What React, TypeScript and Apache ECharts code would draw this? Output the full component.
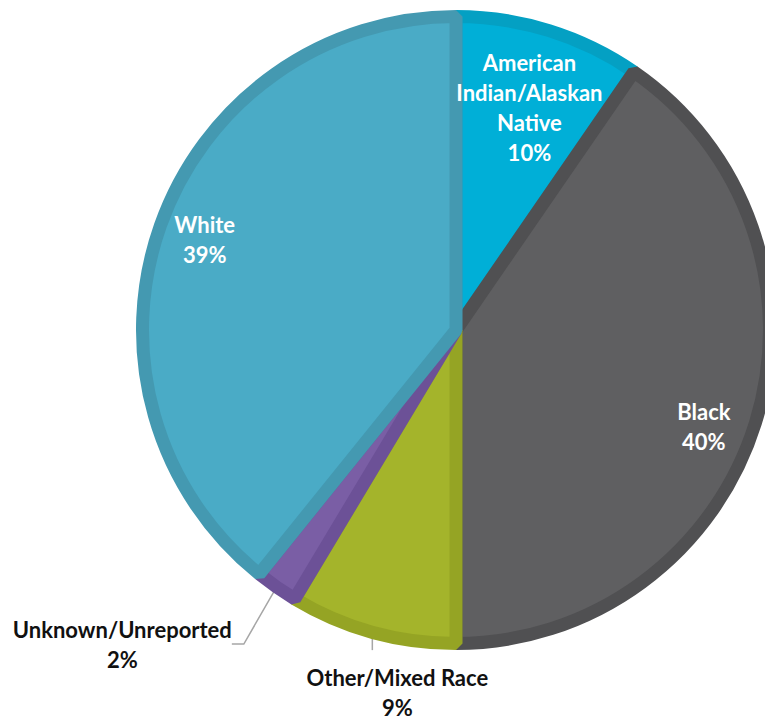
import React, { useEffect, useRef } from "react";
import * as echarts from "echarts";

const categories = [
  "American Indian/Alaskan Native",
  "Black",
  "Other/Mixed Race",
  "Unknown/Unreported",
  "White",
];
const labelText = [
  "American\nIndian/Alaskan\nNative",
  "Black",
  "Other/Mixed Race",
  "Unknown/Unreported",
  "White",
];
const values = [9.6, 40.4, 8.6, 2.2, 39.2];
const fillColors = ["#00afd7", "#5f5f61", "#a4b42b", "#7a5ea5", "#4aabc6"];
const borderColors = ["#04a0c3", "#505052", "#95a424", "#6c5197", "#4499b1"];
const insideLabel = [true, true, false, false, true];

// layout constants (pixels / degrees)
const CX = 456;
const CY = 330;
const R = 320;
const BORDER = 13;
const labelRadius = [234, 266, 0, 0, 267];
const labelAngleShift = [1, 4, 0, 0, 0.3];

export default function App() {
  const ref = useRef<HTMLDivElement>(null);
  useEffect(() => {
    if (!ref.current) return;
    const chart = echarts.init(ref.current, null, { renderer: "svg" });
    const font = {
      fontFamily: "Lato",
      fontWeight: "bold" as const,
      fontSize: 22,
      lineHeight: 30,
    };
    const data = categories.map((name, i) => ({
      name,
      value: values[i],
      itemStyle: {
        color: fillColors[i],
        borderColor: borderColors[i],
        borderWidth: BORDER,
        borderJoin: "bevel",
      },
      label: insideLabel[i]
        ? { position: "inside", color: "#ffffff", ...font }
        : { position: "outside", color: "#111111", ...font },
      labelLine: insideLabel[i]
        ? { show: false }
        : {
            show: true,
            length: i === 2 ? 18 : 72,
            length2: i === 2 ? 0 : 12,
            lineStyle: { color: "#a6a6a6", width: 1.5 },
          },
    }));
    chart.setOption({
      animation: false,
      backgroundColor: "#ffffff",
      series: [
        {
          type: "pie",
          center: [CX, CY],
          radius: [0, R - BORDER / 2],
          startAngle: 90,
          clockwise: true,
          percentPrecision: 0,
          avoidLabelOverlap: false,
          data,
          label: {
            formatter: (p: any) => `${labelText[p.dataIndex]}\n${p.percent}%`,
          },
          labelLayout: (p: any) => {
            const i = p.dataIndex;
            if (insideLabel[i]) {
              const lx = p.labelRect.x + p.labelRect.width / 2;
              const ly = p.labelRect.y + p.labelRect.height / 2;
              const vx = lx - CX;
              const vy = ly - CY;
              // angle measured clockwise from 12 o'clock
              const ang =
                Math.atan2(vx, -vy) + (labelAngleShift[i] * Math.PI) / 180;
              const r = labelRadius[i];
              return {
                x: CX + r * Math.sin(ang),
                y: CY - r * Math.cos(ang),
                align: "center",
                verticalAlign: "middle",
              };
            }
            const pts = p.labelLinePoints;
            if (!pts) return {};
            const p0 = pts[0];
            if (i === 2) {
              const end = [p0[0], p0[1] + 18];
              return {
                x: end[0] + 25,
                y: end[1] + 42,
                align: "center",
                verticalAlign: "middle",
                labelLinePoints: [p0, end, end],
              };
            }
            const e = pts[pts.length - 1];
            return {
              x: e[0] - 101,
              y: e[1] - 2,
              align: "center",
              verticalAlign: "middle",
            };
          },
        },
      ],
    });
    return () => chart.dispose();
  }, []);
  return (
    <div
      ref={ref}
      style={{ position: "absolute", left: 0, top: 0, width: 765, height: 721 }}
    />
  );
}
